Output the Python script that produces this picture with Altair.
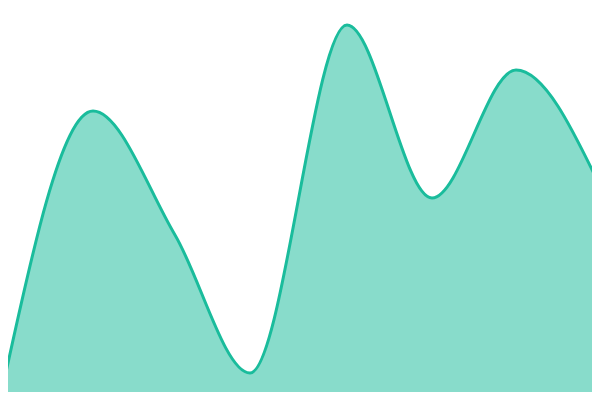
import altair as alt
import pandas as pd

xs = [0, 93, 175, 250, 347, 432, 516, 600]
ys = [0, 289, 165, 27, 375, 202, 330, 214]

df = pd.DataFrame({"x": xs, "y": ys})

# page has an 8px margin: shift the scale ranges so data maps to page pixels
xenc = alt.X("x:Q", scale=alt.Scale(domain=[0, 600], range=[-8, 592], nice=False, zero=False), axis=None)
yenc = alt.Y("y:Q", scale=alt.Scale(domain=[0, 400], range=[392, -8], nice=False), axis=None)

base = alt.Chart(df)
area = base.mark_area(interpolate="monotone", color="#1abc9c", opacity=0.52).encode(x=xenc, y=yenc)
line = base.mark_line(interpolate="monotone", color="#1abc9c", strokeWidth=3).encode(x=xenc, y=yenc)

chart = (area + line).properties(
    width=584, height=384,
    autosize=alt.AutoSizeParams(type="none"),
    padding=0,
).configure_view(stroke=None)

chart.save("out.html", embed_options={"renderer": "svg", "actions": False})
